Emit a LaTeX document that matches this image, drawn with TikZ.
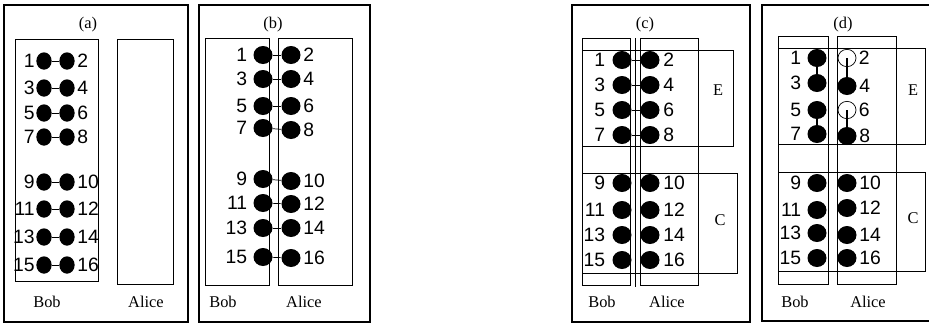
\documentclass[tikz,border=0pt]{standalone}
\usepackage{fontspec}
\setmainfont{Liberation Serif}
\newfontfamily\numfont{Liberation Sans}
\usepackage{tikz}
\usetikzlibrary{shapes.geometric}

\begin{document}
\begin{tikzpicture}[x=0.03cm,y=-0.03cm,
  frame/.style={line width=1.1pt},
  party/.style={line width=0.8pt},
  link/.style={line width=0.6pt},
  sdot/.style={ellipse,fill=black,inner sep=0pt,minimum width=0.46cm,minimum height=0.52cm},
  bdot/.style={ellipse,fill=black,inner sep=0pt,minimum width=0.57cm,minimum height=0.54cm},
  odot/.style={ellipse,draw,line width=0.6pt,fill=white,inner sep=0pt,minimum width=0.54cm,minimum height=0.52cm},
  num/.style={font=\numfont\fontsize{16.5}{16.5}\selectfont,inner sep=1pt},
  tag/.style={font=\fontsize{14}{14}\selectfont},
  who/.style={font=\fontsize{14}{14}\selectfont}]
\useasboundingbox (0,0) rectangle (929,326);
% (a) all pairs with Bob
\begin{scope}[l/.style={label={[num]left:#1}},r/.style={label={[num,xshift=1pt]right:#1}}]
\draw[frame] (4,5) rectangle (188,322);
\draw[party] (15,39) rectangle (98,281);
\draw[party] (117,39) rectangle (173,284);
\node[tag] (ta) at (88,25) {(a)};
\node[who] (boba) at (47,302) {Bob};
\node[who] (alicea) at (146,302) {Alice};
\node[sdot,l=1] (a1) at (44,61) {};
\node[sdot,r=2] (a2) at (67,61) {};
\node[sdot,l=3] (a3) at (44,88) {};
\node[sdot,r=4] (a4) at (67,88) {};
\node[sdot,l=5] (a5) at (44,113) {};
\node[sdot,r=6] (a6) at (67,113) {};
\node[sdot,l=7] (a7) at (44,137) {};
\node[sdot,r=8] (a8) at (67,137) {};
\node[sdot,l=9] (a9) at (44,182) {};
\node[sdot,r=10] (a10) at (67,182) {};
\node[sdot,l=11] (a11) at (44,209) {};
\node[sdot,r=12] (a12) at (67,209) {};
\node[sdot,l=13] (a13) at (44,237) {};
\node[sdot,r=14] (a14) at (67,237) {};
\node[sdot,l=15] (a15) at (44,265) {};
\node[sdot,r=16] (a16) at (67,265) {};
\draw[link] (a1) -- (a2);
\draw[link] (a3) -- (a4);
\draw[link] (a5) -- (a6);
\draw[link] (a7) -- (a8);
\draw[link] (a9) -- (a10);
\draw[link] (a11) -- (a12);
\draw[link] (a13) -- (a14);
\draw[link] (a15) -- (a16);
\end{scope}
% (b) one half sent to Alice
\begin{scope}[l/.style={label={[num,xshift=-4pt]left:#1}},r/.style={label={[num,xshift=1pt]right:#1}}]
\draw[frame] (199,5) rectangle (370,322);
\draw[party] (205,38) rectangle (269,285);
\draw[party] (278,38) rectangle (352,285);
\node[tag] (tb) at (273,25) {(b)};
\node[who] (bobb) at (223,302) {Bob};
\node[who] (aliceb) at (304,302) {Alice};
\node[bdot,l=1] (b1) at (263,55) {};
\node[bdot,r=2] (b2) at (291,55) {};
\node[bdot,l=3] (b3) at (263,79) {};
\node[bdot,r=4] (b4) at (291,79) {};
\node[bdot,l=5] (b5) at (263,106) {};
\node[bdot,r=6] (b6) at (291,106) {};
\node[bdot,l=7] (b7) at (263,128) {};
\node[bdot,r=8] (b8) at (291,130) {};
\node[bdot,l=9] (b9) at (263,179) {};
\node[bdot,r=10] (b10) at (291,181) {};
\node[bdot,l=11] (b11) at (263,203) {};
\node[bdot,r=12] (b12) at (291,204) {};
\node[bdot,l=13] (b13) at (263,228) {};
\node[bdot,r=14] (b14) at (291,228) {};
\node[bdot,l=15] (b15) at (263,257) {};
\node[bdot,r=16] (b16) at (291,258) {};
\draw[link] (b1) -- (b2);
\draw[link] (b3) -- (b4);
\draw[link] (b5) -- (b6);
\draw[link] (b7) -- (b8);
\draw[link] (b9) -- (b10);
\draw[link] (b11) -- (b12);
\draw[link] (b13) -- (b14);
\draw[link] (b15) -- (b16);
\end{scope}
% (c) groups E and C
\begin{scope}[l/.style={label={[num,xshift=-5pt]left:#1}},r/.style={label={[num,xshift=2pt]right:#1}}]
\draw[frame] (572,5) rectangle (750,322);
\draw[party] (582,38) rectangle (630,285);
\draw[party] (640,38) rectangle (698,285);
\draw[link] (635,38) -- (635,287);
\draw[party] (582,50) rectangle (733,146);
\draw[party] (582,173) rectangle (737,273);
\node[tag] (tc) at (645,25) {(c)};
\node[who] (bobc) at (602,302) {Bob};
\node[who] (alicec) at (667,302) {Alice};
\node[tag] (ec) at (718,90) {E};
\node[tag] (cc) at (720,220) {C};
\node[bdot,l=1] (c1) at (622,60) {};
\node[bdot,r=2] (c2) at (650,60) {};
\node[bdot,l=3] (c3) at (622,85) {};
\node[bdot,r=4] (c4) at (650,85) {};
\node[bdot,l=5] (c5) at (622,110) {};
\node[bdot,r=6] (c6) at (650,110) {};
\node[bdot,l=7] (c7) at (622,135) {};
\node[bdot,r=8] (c8) at (650,135) {};
\node[bdot,l=9] (c9) at (622,183) {};
\node[bdot,r=10] (c10) at (650,183) {};
\node[bdot,l=11] (c11) at (622,210) {};
\node[bdot,r=12] (c12) at (650,210) {};
\node[bdot,l=13] (c13) at (622,235) {};
\node[bdot,r=14] (c14) at (650,235) {};
\node[bdot,l=15] (c15) at (622,260) {};
\node[bdot,r=16] (c16) at (650,260) {};
\draw[link] (c1) -- (c2);
\draw[link] (c3) -- (c4);
\draw[link] (c5) -- (c6);
\draw[link] (c7) -- (c8);
\end{scope}
% (d) swapped pairs in E
\begin{scope}[l/.style={label={[num,xshift=-4pt]left:#1}},r/.style={label={[num,xshift=1pt]right:#1}}]
\draw[frame] (929,5) -- (762,5) -- (762,321) -- (929,321);
\draw[party] (778,36) rectangle (828,284);
\draw[party] (837,36) rectangle (896,284);
\draw[party] (778,48) rectangle (925,144);
\draw[party] (778,172) rectangle (925,271);
\node[tag] (td) at (843,25) {(d)};
\node[who] (bobd) at (795,302) {Bob};
\node[who] (aliced) at (868,302) {Alice};
\node[tag] (ed) at (913,90) {E};
\node[tag] (cd) at (913,218) {C};
\node[bdot,l=1] (d1) at (817,58) {};
\node[odot,r=2] (d2) at (847,58) {};
\node[bdot,l=3] (d3) at (817,83) {};
\node[bdot,r=4] (d4) at (847,86) {};
\node[bdot,l=5] (d5) at (817,110) {};
\node[odot,r=6] (d6) at (847,110) {};
\node[bdot,l=7] (d7) at (817,134) {};
\node[bdot,r=8] (d8) at (847,136) {};
\node[bdot,l=9] (d9) at (817,183) {};
\node[bdot,r=10] (d10) at (847,183) {};
\node[bdot,l=11] (d11) at (817,210) {};
\node[bdot,r=12] (d12) at (847,208) {};
\node[bdot,l=13] (d13) at (817,233) {};
\node[bdot,r=14] (d14) at (847,235) {};
\node[bdot,l=15] (d15) at (817,258) {};
\node[bdot,r=16] (d16) at (847,258) {};
\draw[line width=0.9pt] (d1) -- (d3);
\draw[line width=0.9pt] (d5) -- (d7);
\draw[line width=0.9pt] (d2.center) -- (d4);
\draw[line width=0.9pt] (d6.center) -- (d8);
\end{scope}
\end{tikzpicture}
\end{document}
